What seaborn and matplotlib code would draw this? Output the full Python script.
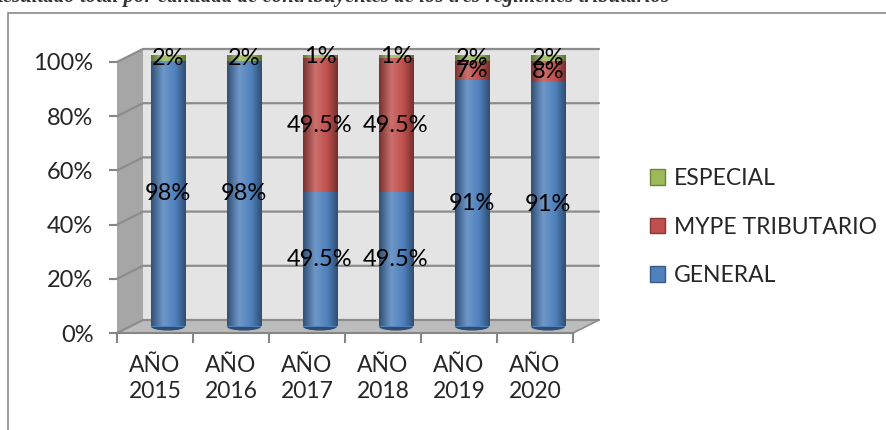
import matplotlib
matplotlib.use("Agg")

import numpy as np
import pandas as pd
import seaborn as sns
import matplotlib.pyplot as plt
from matplotlib.patches import Polygon, Rectangle, Ellipse, Patch
from matplotlib.colors import LinearSegmentedColormap, to_rgb

# data
years = ["AÑO\n2015", "AÑO\n2016", "AÑO\n2017", "AÑO\n2018", "AÑO\n2019", "AÑO\n2020"]
general = [98, 98, 49.5, 49.5, 91, 91]
mype = [None, None, 49.5, 49.5, 7, 8]
especial = [2, 2, 1, 1, 2, 2]
regimes = ["ESPECIAL", "MYPE TRIBUTARIO", "GENERAL"]
colors = {"ESPECIAL": "#9bbb59", "MYPE TRIBUTARIO": "#c0504d", "GENERAL": "#4f81bd"}

sns.set_theme(style="white")
plt.rcParams["font.family"] = ["Lato", "DejaVu Sans"]
FS = 16.5
GRAY = "#868686"

g = np.array(general, float)
m = np.nan_to_num(np.array(mype, float))
e = np.array(especial, float)
total = g + m + e
cum = {"GENERAL": g / total, "MYPE TRIBUTARIO": (g + m) / total, "ESPECIAL": (g + m + e) / total}
seg_vals = {"GENERAL": general, "MYPE TRIBUTARIO": mype, "ESPECIAL": especial}
bottoms = {"GENERAL": np.zeros(6), "MYPE TRIBUTARIO": g / total, "ESPECIAL": (g + m) / total}

df = pd.DataFrame({
    "year": years * 3,
    "regimen": [r for r in regimes for _ in years],
    "cum": np.concatenate([cum[r] for r in regimes]),
})

fig = plt.figure(figsize=(8.86, 4.3), dpi=100)
ax = fig.add_axes([117 / 886, (430 - 333) / 430, 456 / 886, 271 / 430])

# depth offset of the 3d box (in data units)
DX, DY = 26 / 76, 13 / 271
W = 0.45

sns.barplot(data=df, x="year", y="cum", hue="regimen", hue_order=regimes,
            palette=colors, dodge=False, width=W, saturation=1, ax=ax,
            legend=False, linewidth=0)
bars = list(ax.patches)


def shade(c, f):
    c = np.array(to_rgb(c))
    return tuple(np.clip(c * f, 0, 1)) if f < 1 else tuple(c + (1 - c) * (f - 1))


# cylinder-like shading, one layer per regimen
for k, p in enumerate(bars):
    layer = k // 6
    p.set_x(p.get_x() + DX / 2)
    p.set_y(p.get_y() + DY / 2)
    z = 3 + layer
    p.set_zorder(z)
    fc = p.get_facecolor()[:3]
    cmap = LinearSegmentedColormap.from_list(
        "cyl", [(0, shade(fc, 0.62)), (0.35, shade(fc, 1.18)),
                (0.7, shade(fc, 1.0)), (1, shade(fc, 0.6))])
    x0, y0 = p.get_x(), p.get_y()
    im = ax.imshow(np.linspace(0, 1, 100)[None, :], cmap=cmap, aspect="auto",
                   extent=[x0, x0 + p.get_width(), y0, y0 + p.get_height()],
                   zorder=z + 0.1, interpolation="bilinear")
    im.set_clip_path(p)

for i in range(6):
    xc = i + DX / 2
    ax.add_patch(Ellipse((xc, DY / 2), W, 0.03, facecolor=shade(colors["GENERAL"], 0.6),
                         edgecolor="none", zorder=2.9))
    ax.add_patch(Ellipse((xc, 1 + DY / 2), W, 0.025, facecolor=shade(colors["ESPECIAL"], 1.2),
                         edgecolor=shade(colors["ESPECIAL"], 0.75), lw=0.8, zorder=7))

# walls and floor
ax.add_patch(Rectangle((-0.5 + DX, DY), 6, 1, facecolor="#e4e4e4", edgecolor="none",
                       zorder=0, clip_on=False))
ax.add_patch(Polygon([(-0.5, 0), (-0.5 + DX, DY), (-0.5 + DX, 1 + DY), (-0.5, 1)],
                     facecolor="#a6a6a6", edgecolor="none", zorder=0.5, clip_on=False))
ax.add_patch(Polygon([(-0.5, 0), (5.5, 0), (5.5 + DX, DY), (-0.5 + DX, DY)],
                     facecolor="#bcbcbc", edgecolor="none", zorder=0.6, clip_on=False))
for v in np.linspace(0, 1, 6):
    ax.plot([-0.5, -0.5 + DX, 5.5 + DX], [v, v + DY, v + DY], color="#8c8c8c",
            lw=1.6, zorder=1, clip_on=False, solid_joinstyle="miter")
ax.plot([5.5, 5.5 + DX], [0, DY], color="#8c8c8c", lw=1.2, zorder=1, clip_on=False)

# value labels in the middle of every segment
for r in regimes:
    for i, v in enumerate(seg_vals[r]):
        if v is None:
            continue
        h = v / total[i]
        ax.text(i + DX / 2, bottoms[r][i] + h / 2 + DY / 2, f"{v:g}%", ha="center",
                va="center", fontsize=FS + 0.5, color="black", zorder=10)

ax.set_xlim(-0.5, 5.5)
ax.set_ylim(0, 1)
ax.set_xlabel("")
ax.set_ylabel("")
ax.patch.set_visible(False)
for s in ["left", "right", "top"]:
    ax.spines[s].set_visible(False)
ax.spines["bottom"].set_color(GRAY)
ax.spines["bottom"].set_linewidth(1.5)

ax.set_yticks(np.linspace(0, 1, 6))
ax.set_yticklabels([f"{int(round(v * 100))}%" for v in np.linspace(0, 1, 6)])
ax.tick_params(axis="y", left=True, length=6, width=1.5, color=GRAY, pad=11, labelsize=FS + 0.5)
ax.set_xticks(range(6))
ax.set_xticklabels(years, linespacing=1.3)
ax.set_xticks(np.arange(-0.5, 5.6, 1), minor=True)
ax.tick_params(axis="x", which="major", length=0, pad=16, labelsize=FS)
ax.tick_params(axis="x", which="minor", bottom=True, length=7, width=1.5, color=GRAY)

handles = [Patch(facecolor=colors[r], edgecolor=shade(colors[r], 0.7), lw=1) for r in regimes]
fig.legend(handles, regimes, loc="upper left", bbox_to_anchor=(650 / 886, 1 - 168 / 430),
           frameon=False, fontsize=FS, handlelength=0.65, handleheight=0.65,
           handletextpad=0.4, labelspacing=1.2, borderaxespad=0, borderpad=0)

# outer frame and the caption above it, cut off by the page edge
fig.patches.append(Rectangle((8 / 886, -0.05), 1.0, (430 - 13) / 430 + 0.05,
                             transform=fig.transFigure, fill=False, edgecolor="#8a8a8a", lw=1.2))
fig.text(-0.012, 1 - 2 / 430,
         "Resultado total por cantidad de contribuyentes de los tres regímenes tributarios",
         family=["Liberation Serif"], style="italic", weight="bold", fontsize=15,
         va="baseline", ha="left", color="#333333")

fig.savefig("out.png", dpi=100)
